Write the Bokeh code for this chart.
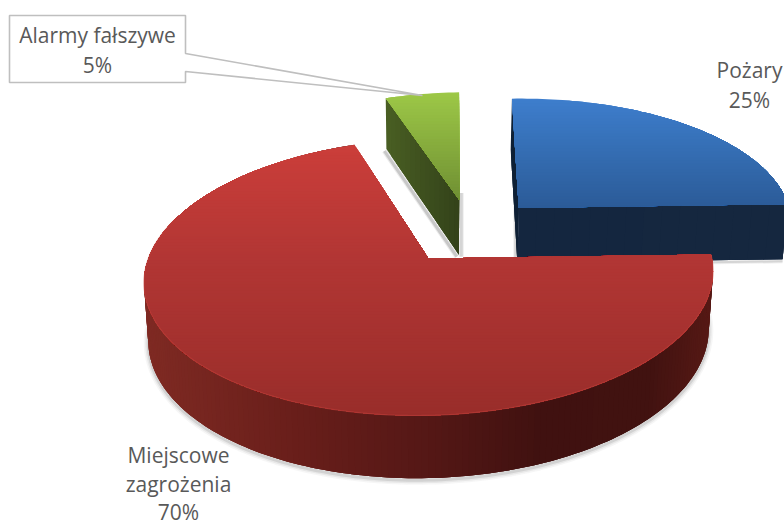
import numpy as np
from bokeh.plotting import figure
from bokeh.models import Range1d
from bokeh.core.properties import value
from bokeh.embed import file_html
from bokeh.resources import INLINE

categories = ["Pożary", "Miejscowe zagrożenia", "Alarmy fałszywe"]
shares = [25, 70, 5]
explode_x = [0.336, 0.0, 0.1157]
explode_y = [0.375, 0.0, 0.452]
label_lines = [["Pożary", "25%"], ["Miejscowe", "zagrożenia", "70%"], ["Alarmy fałszywe", "5%"]]
label_x = [749, 178, 97]
label_y = [[69, 99], [454, 483, 511], [34, 64]]

CX, CY, R, HB, K, ROLL, ROT = 428.0, 258.0, 282.0, 136.0, 0.133, 0.021, 0.8
DEPTH, A, NARROW = 57.0, 0.67, 0.985
TEXT = "#595959"
FONT = "Open Sans"


def lerp(stops, t):
    xs = [s[0] for s in stops]
    cols = [[int(s[1][i:i + 2], 16) for i in (1, 3, 5)] for s in stops]
    rgb = [np.interp(t, xs, [c[j] for c in cols]) for j in range(3)]
    return "#%02x%02x%02x" % tuple(int(round(v)) for v in rgb)


def proj(X, Y):
    X, Y = np.asarray(X, float), np.asarray(Y, float)
    w = 1 + K * Y
    dx = R * X / w
    return CX + dx, CY - HB * Y / w - ROLL * dx, w


def drop(sx, sy, w):
    return CX + (sx - CX) * NARROW, sy + DEPTH / w ** A


def clip_below(px, py, y0):
    out_x, out_y = [], []
    n = len(px)
    for i in range(n):
        x1, y1, x2, y2 = px[i], py[i], px[(i + 1) % n], py[(i + 1) % n]
        if y1 >= y0:
            out_x.append(x1)
            out_y.append(y1)
        if (y1 >= y0) != (y2 >= y0):
            t = (y0 - y1) / (y2 - y1)
            out_x.append(x1 + t * (x2 - x1))
            out_y.append(y0)
    return out_x, out_y


def wedge(i):
    start = ROT + 3.6 * sum(shares[:i])
    # the first slice starts at 12 o'clock, the last ends there
    ang = np.radians(np.linspace(start, start + 3.6 * shares[i], max(12, shares[i] * 3)))
    ax, ay, aw = proj(explode_x[i] + np.sin(ang), explode_y[i] + np.cos(ang))
    ox, oy, ow = proj([explode_x[i]], [explode_y[i]])
    return ax, ay, aw, ox[0], oy[0], ow[0]


def faces(p, x1, y1, x2, y2, stops, overlap=3):
    xs, ys, cs = [], [], []
    n = len(x1)
    for j in range(n - 1):
        e = min(n - 1, j + overlap)
        xs.append(list(x1[j:e + 1]) + list(x2[j:e + 1])[::-1])
        ys.append(list(y1[j:e + 1]) + list(y2[j:e + 1])[::-1])
        cs.append(lerp(stops, (x1[j] + x1[j + 1]) / 2))
    p.patches(xs, ys, fill_color=cs, line_color=None)


def draw_top(p, i, stops, step=3):
    ax, ay, aw, ox, oy, ow = wedge(i)
    px = [ox] + list(ax)
    py = [oy] + list(ay)
    levels = np.arange(min(py) - 1, max(py) + 1, step)
    xs, ys, cs = [], [], []
    for lv in levels:
        cx, cy = clip_below(px, py, lv)
        if len(cx) > 2:
            xs.append(cx)
            ys.append(cy)
            cs.append(lerp(stops, lv + step / 2))
    p.patches(xs, ys, fill_color=cs, line_color=None)


def radial_face(p, i, end, stops):
    ax, ay, aw, ox, oy, ow = wedge(i)
    ex, ey, ew = (ax[0], ay[0], aw[0]) if end == 0 else (ax[-1], ay[-1], aw[-1])
    t = np.linspace(0, 1, 16)
    if ex < ox:
        t = t[::-1]
    x1 = ox + t * (ex - ox)
    y1 = oy + t * (ey - oy)
    w1 = ow + t * (ew - ow)
    x2, y2 = drop(x1, y1, w1)
    faces(p, x1, y1, x2, y2, stops)


p = figure(width=784, height=525, x_range=Range1d(0, 784), y_range=Range1d(525, 0),
           toolbar_location=None, output_backend="svg", min_border=0,
           background_fill_color="white", border_fill_color="white", outline_line_color=None)
p.axis.visible = False
p.grid.visible = False

# soft shadows of the lifted slices
for i in (0, 2):
    ax, ay, aw, ox, oy, ow = wedge(i)
    ex, ey, ew = (ax[0], ay[0], aw[0]) if i == 0 else (ax[-1], ay[-1], aw[-1])
    bx, by = drop(np.array([ex, ox]), np.array([ey, oy]), np.array([ew, ow]))
    off = -3 if i == 0 else 2
    yy = [by[0] + 50, by[1] + 2]
    for lw, al in ((5, 0.10), (3, 0.18)):
        p.line([ox + off, ox + off], yy, line_color="#606060", line_width=lw, line_alpha=al)
ax, ay, aw, ox, oy, ow = wedge(2)
bx, by = drop(np.array([ax[0], ox]), np.array([ay[0], oy]), np.array([aw[0], ow]))
for lw, al in ((5, 0.12), (3, 0.22)):
    p.line(bx - 2, by + 2, line_color="#505050", line_width=lw, line_alpha=al)
ax, ay, aw, ox, oy, ow = wedge(0)
bx, by = drop(np.array([ox, ax[-1]]), np.array([oy, ay[-1]]), np.array([ow, aw[-1]]))
for lw, al in ((4, 0.10), (2, 0.18)):
    p.line(bx, by + 2, line_color="#606060", line_width=lw, line_alpha=al)

# blue slice
radial_face(p, 0, 0, [(500, "#0f2136"), (530, "#0f2136")])
radial_face(p, 0, -1, [(500, "#14263f"), (800, "#15273f")])
draw_top(p, 0, [(96, "#3e7fce"), (208, "#2b5b97")])

# green slice
radial_face(p, 2, 0, [(384, "#4a5f23"), (459, "#33421a")])
draw_top(p, 2, [(92, "#9dc847"), (200, "#6f8f33")])

# red slice: outer shadow, curved side, top
ax, ay, aw, ox, oy, ow = wedge(1)
bx, by = drop(ax, ay, aw)
for lw, al in ((9, 0.05), (6, 0.08), (3, 0.14)):
    p.line(bx, by + 2, line_color="#505050", line_width=lw, line_alpha=al)
side_stops = [(143, "#7f2a23"), (300, "#681e1a"), (420, "#561816"), (540, "#401110"),
              (650, "#411210"), (712, "#561915")]
faces(p, ax[::-1], ay[::-1], bx[::-1], by[::-1], side_stops)
draw_top(p, 1, [(144, "#cb3e3a"), (258, "#b23634"), (415, "#992d2a")])
mask = ay > CY - 40
p.line(ax[mask], ay[mask], line_color="#c0403b", line_width=1.2, line_alpha=0.55)

# callout of the small slice
box_x = [9, 185, 185, 422, 185, 185, 9]
box_y = [15, 15, 53, 95, 71, 82, 82]
p.patch(box_x, box_y, fill_color="white", line_color="#bfbfbf", line_width=1.6)

for x, lines, ys in zip(label_x, label_lines, label_y):
    p.text([x] * len(lines), ys, text=lines, text_align="center", text_baseline="alphabetic",
           text_font=value(FONT), text_font_size="21px", text_color=TEXT)

open("out.html", "w").write(file_html(p, INLINE))
